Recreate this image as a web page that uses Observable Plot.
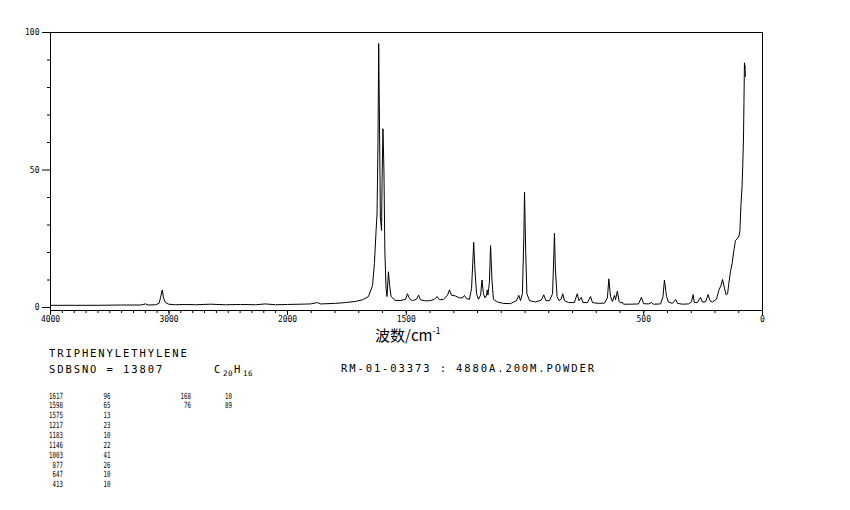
<!DOCTYPE html>
<html><head><meta charset="utf-8">
<script src="https://cdn.jsdelivr.net/npm/d3@7"></script>
<script src="https://cdn.jsdelivr.net/npm/@observablehq/plot@0.6"></script>
<style>
html,body{margin:0;padding:0;background:#fff;}
#wrap{position:relative;width:850px;height:510px;overflow:hidden;}
#wrap svg{position:absolute;left:0;top:0;}
</style></head><body><div id="wrap"></div>
<script>
// Raman spectrum of triphenylethylene (wavenumber cm-1, relative intensity)
const wavenumbers = [4000,3800,3600,3400,3240,3198,3173,3114,3084,3072,3057,3046,3030,3004,2945,2861,2776,2650,2523,2397,2270,2186,2101,2000,
1945,1903,1874,1861,1798,1756,1714,1684,1659,1642,1634,1627,1623,1619,1616,1613,1609,1604,1602,1598,1594,1590,1585,1581,1577,1575,1570,1564,
1547,1526,1503,1495,1486,1474,1457,1448,1440,1419,1398,1381,1370,1360,1343,1326,1318,1310,1293,1276,1263,1255,1246,1234,1225,1219,1216,1211,
1204,1196,1187,1181,1175,1168,1162,1159,1156,1150,1145,1139,1133,1116,1091,1061,1036,1026,1019,1011,1005,1002,997,992,981,956,931,921,912,
897,884,879,876,872,865,857,848,841,834,817,792,780,773,763,756,737,724,716,691,665,653,647,640,632,623,619,611,604,596,591,585,556,522,510,
501,480,468,459,429,419,413,404,396,379,366,358,337,312,299,292,287,274,261,253,240,229,221,211,194,184,175,168,160,154,147,142,135,128,120,
114,106,99,95,91,86,83,80,78,76,75,74,72];
const intensities = [0.8,0.8,0.8,0.9,0.9,1.3,0.9,1.0,1.5,3.5,6.4,3.5,1.8,1.2,1.0,1.1,1.0,1.2,1.0,1.1,1.0,1.3,1.0,1.1,
1.2,1.3,1.8,1.3,1.5,1.8,2.2,2.8,4,8,16,28,34,60,96,70,33,28,45,65,50,20,7,4,10,13,8,4,
2.6,2.5,3,5,3.2,2.5,3,4.5,2.8,2.4,2.5,3,4,2.8,3,4.5,6.4,4.5,4.2,3.5,3.5,4.4,3.2,3,7,18,23.7,14,
5,3,4.5,10,5,3.5,4.5,6.4,4.5,9,22.5,10,3,2,1.5,1.4,2.5,4.4,2.5,5,25,42,20,5,2.5,2,2.7,4.6,2.5,
2.5,5,18,27,14,4,2.5,3,5,2.5,1.8,1.8,5,2.5,3.7,1.8,1.8,4,1.8,1.5,1.6,3.5,10.4,4,2.2,4.4,2.8,6,2.2,1.6,2,1.2,1.2,1.3,3.7,
1.4,1.3,1.8,1.2,1.3,4,10,4,2,1.5,2.9,1.5,1.2,1.3,2,4.7,1.8,1.8,3.7,2,2,4.7,2.5,2,3,6.2,8,10.2,7,4.7,5,8.6,13,16,21,
24.4,25,26,28,37,44,52,62,75,89,87,88,84];

const xMajorTicks = [4000,3000,2000,1500,500,0];
const xMinorTicks = [4000,3900,3800,3700,3600,3500,3400,3300,3200,3100,3000,2900,2800,2700,2600,2500,2400,2300,2200,2100,2000,
1900,1800,1700,1600,1500,1400,1300,1200,1100,1000,900,800,700,600,500,400,300,200,100,0];
const yMajorTicks = [0,50,100];
const yMinorTicks = [10,20,30,40,60,70,80,90];

const peakWavenumbers = [1617,1598,1575,1217,1183,1146,1003,877,647,413,168,76];
const peakIntensities = [96,65,13,23,10,22,41,26,10,10,10,89];

const compoundName = "TRIPHENYLETHYLENE";
const sdbsNo = "SDBSNO = 13807";
const measurement = "RM-01-03373 : 4880A.200M.POWDER";
const xTitle = "波数/cm";
const xTitleSup = "-1";

const spectrum = wavenumbers.map((w, i) => ({w, v: intensities[i]}));

const chart = Plot.plot({
  width: 850, height: 340,
  marginLeft: 50, marginRight: 88, marginTop: 32, marginBottom: 30,
  style: {fontFamily: "DejaVu Sans Mono", fontSize: "8px", color: "black", background: "transparent", overflow: "visible"},
  x: {type: "linear", domain: [4000, 2000, 0], range: [50, 287, 762], label: null},
  y: {domain: [-1.09, 100], range: [310, 32], label: null},
  marks: [
    Plot.frame({stroke: "black", strokeWidth: 1}),
    Plot.axisX({ticks: xMinorTicks, tickSize: 3, tickFormat: () => "", stroke: "black", label: null}),
    Plot.axisX({ticks: xMajorTicks, tickSize: 5, tickPadding: 1, tickFormat: d => String(d), stroke: "black", fill: "black", label: null}),
    Plot.axisY({ticks: yMinorTicks, tickSize: 3, tickFormat: () => "", stroke: "black", label: null}),
    Plot.axisY({ticks: yMajorTicks, tickSize: 8, tickPadding: 3, tickFormat: d => String(d), stroke: "black", fill: "black", label: null}),
    Plot.line(spectrum, {x: "w", y: "v", stroke: "black", strokeWidth: 1})
  ]
});
const wrap = document.getElementById("wrap");
wrap.appendChild(chart);

const ov = d3.select(wrap).append("svg")
  .attr("width", 850).attr("height", 510)
  .style("font-family", "DejaVu Sans Mono").style("fill", "black");

// axis title
const t = ov.append("text").attr("x", 375).attr("y", 341)
  .style("font-family", "'Noto Sans CJK SC'").style("font-size", "15px").text(xTitle);
t.append("tspan").attr("dy", -7).style("font-size", "9px").text(xTitleSup);

const header = {"font-size": "10.5px", "letter-spacing": "1.9px"};
function htext(x, y, s, st) {
  const e = ov.append("text").attr("x", x).attr("y", y).text(s);
  for (const k in st) e.style(k, st[k]);
  return e;
}
htext(49, 357, compoundName, header);
htext(49, 373, sdbsNo, header);
htext(341, 372, measurement, header);
htext(214, 373, "C", header);
htext(223, 375.5, "20", {"font-size": "7.5px", "letter-spacing": "0.5px"});
htext(234, 373, "H", header);
htext(243, 375.5, "16", {"font-size": "7.5px", "letter-spacing": "0.5px"});

// peak table
function ttext(x, y, s) {
  ov.append("text").attr("transform", `translate(${x},${y}) scale(0.68,1)`)
    .attr("text-anchor", "end").style("font-size", "8.5px").text(s);
}
peakWavenumbers.forEach((w, i) => {
  const col = i < 10 ? 0 : 1;
  const row = i < 10 ? i : i - 10;
  const y = 398.5 + row * 9.86;
  ttext(col ? 191 : 63, y, String(w));
  ttext(col ? 232 : 110.5, y, String(peakIntensities[i]));
});
</script></body></html>
